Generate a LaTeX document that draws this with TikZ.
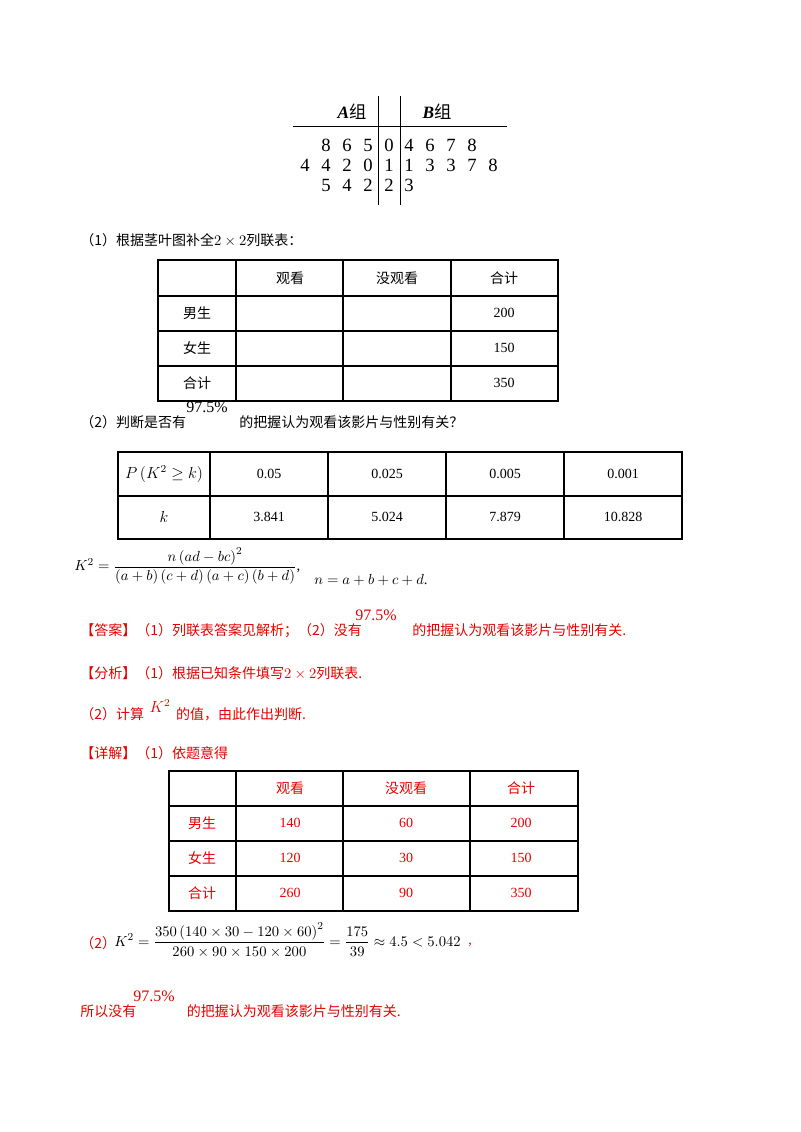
\documentclass[tikz,border=0pt]{standalone}
\usepackage{fontspec}
\usepackage{amsmath,amssymb}
\setmainfont{Liberation Serif}
\newfontfamily\cjk{Noto Sans CJK SC}
\definecolor{ansred}{RGB}{230,0,0}
\begin{document}
\begin{tikzpicture}[x=0.75pt,y=-0.75pt,
  t/.style={font=\fontsize{10.5}{12}\selectfont,inner sep=0pt},
  L/.style={t,anchor=west},
  dg/.style={t,font=\fontsize{14}{15}\selectfont},
  grid/.style={line width=0.8pt}]
\useasboundingbox[fill=white] (0,0) rectangle (800,1132);
% stem-leaf
\draw[line width=0.6pt] (293,126) -- (507,126);
\draw[line width=0.6pt] (378,96) -- (378,205) (400,96) -- (400,205);
\node[t,font=\fontsize{13}{14}\selectfont] (ga) at (352,112) {\textbf{\textit{A}}\cjk 组};
\node[t,font=\fontsize{13}{14}\selectfont] (gb) at (437,112) {\textbf{\textit{B}}\cjk 组};
\foreach \d [count=\i] in {8,6,5} \node[dg] (la\i) at (305+21*\i,145) {\d};
\foreach \d [count=\i] in {4,4,2,0} \node[dg] (lb\i) at (284+21*\i,165) {\d};
\foreach \d [count=\i] in {5,4,2} \node[dg] (lc\i) at (305+21*\i,185) {\d};
\node[dg] (s0) at (389,145) {0};
\node[dg] (s1) at (389,165) {1};
\node[dg] (s2) at (389,185) {2};
\foreach \d [count=\i] in {4,6,7,8} \node[dg] (ra\i) at (388+21*\i,145) {\d};
\foreach \d [count=\i] in {1,3,3,7,8} \node[dg] (rb\i) at (388+21*\i,165) {\d};
\node[dg] (rc1) at (409,185) {3};
\node[L] (q1) at (80,240) {\cjk （1）根据茎叶图补全\rm$2\times2$\cjk 列联表：};
% table 1
\draw[grid] (158,260) rectangle (558,401);
\foreach \y in {296,331,366} \draw[grid] (158,\y) -- (558,\y);
\foreach \x in {236,343,451} \draw[grid] (\x,260) -- (\x,401);
\node[t] (a1) at (290,278) {\cjk 观看};
\node[t] (a2) at (397,278) {\cjk 没观看};
\node[t] (a3) at (504,278) {\cjk 合计};
\node[t] (a4) at (197,313) {\cjk 男生};
\node[t] (a5) at (197,348) {\cjk 女生};
\node[t] (a6) at (197,383) {\cjk 合计};
\node[t] (a7) at (504,313) {200};
\node[t] (a8) at (504,348) {150};
\node[t] (a9) at (504,383) {350};
\node[L] (q2) at (80,422) {\cjk （2）判断是否有\hspace{40pt}的把握认为观看该影片与性别有关？};
\node[t,font=\fontsize{12}{13}\selectfont] (p1) at (207,407) {97.5\%};
% table 2
\draw[grid] (118,452) rectangle (682,539);
\draw[grid] (118,496) -- (682,496);
\foreach \x in {210,328,446,564} \draw[grid] (\x,452) -- (\x,539);
\node[t,font=\fontsize{12}{13}\selectfont] (b0) at (164,474) {$P\left(K^2\geq k\right)$};
\node[t] (b1) at (269,474) {0.05};
\node[t] (b2) at (387,474) {0.025};
\node[t] (b3) at (505,474) {0.005};
\node[t] (b4) at (623,474) {0.001};
\node[t,font=\fontsize{12}{13}\selectfont] (c0) at (164,517) {$k$};
\node[t] (c1) at (269,517) {3.841};
\node[t] (c2) at (387,517) {5.024};
\node[t] (c3) at (505,517) {7.879};
\node[t] (c4) at (623,517) {10.828};
\node[L,font=\fontsize{11}{13}\selectfont] (f1) at (74,566) {$K^2=\dfrac{n\left(ad-bc\right)^2}{\left(a+b\right)\left(c+d\right)\left(a+c\right)\left(b+d\right)}$,};
\node[L,font=\fontsize{11}{13}\selectfont] (f2) at (314,580) {$n=a+b+c+d$.};
% answer
\begin{scope}[every node/.append style={text=ansred}]
\node[L] (ans) at (80,631) {\cjk 【答案】（1）列联表答案见解析；（2）没有\hspace{38pt}的把握认为观看该影片与性别有关.};
\node[t,font=\fontsize{12}{13}\selectfont] (p2) at (376,615) {97.5\%};
\node[L] (fx) at (80,673) {\cjk 【分析】（1）根据已知条件填写\rm$2\times2$\cjk 列联表.};
\node[L] (js) at (80,714) {\cjk （2）计算\hspace{24pt}的值，由此作出判断.};
\node[t,font=\fontsize{12}{13}\selectfont] (k2) at (160,706) {$K^2$};
\node[L] (xj) at (80,753) {\cjk 【详解】（1）依题意得};
\end{scope}
% table 3
\draw[grid] (169,771) rectangle (578,911);
\foreach \y in {806,841,876} \draw[grid] (169,\y) -- (578,\y);
\foreach \x in {236,343,470} \draw[grid] (\x,771) -- (\x,911);
\begin{scope}[every node/.append style={text=ansred}]
\node[t] (d1) at (290,788) {\cjk 观看};
\node[t] (d2) at (406,788) {\cjk 没观看};
\node[t] (d3) at (521,788) {\cjk 合计};
\node[t] (d4) at (202,823) {\cjk 男生};
\node[t] (d5) at (202,858) {\cjk 女生};
\node[t] (d6) at (202,893) {\cjk 合计};
\node[t] (e1) at (290,823) {140};
\node[t] (e2) at (406,823) {60};
\node[t] (e3) at (521,823) {200};
\node[t] (e4) at (290,858) {120};
\node[t] (e5) at (406,858) {30};
\node[t] (e6) at (521,858) {150};
\node[t] (e7) at (290,893) {260};
\node[t] (e8) at (406,893) {90};
\node[t] (e9) at (521,893) {350};
\node[L] (q22) at (80,943) {\cjk （2）};
\node[L] (s1) at (80,1011) {\cjk 所以没有\hspace{38pt}的把握认为观看该影片与性别有关.};
\node[t,font=\fontsize{12}{13}\selectfont] (p3) at (154,996) {97.5\%};
\end{scope}
\node[L,font=\fontsize{11}{13}\selectfont] (f3) at (114,940) {$K^2=\dfrac{350\left(140\times30-120\times60\right)^2}{260\times90\times150\times200}=\dfrac{175}{39}\approx4.5<5.042$};
\node[L,text=ansred] (cm) at (468,945) {,};
\end{tikzpicture}
\end{document}
